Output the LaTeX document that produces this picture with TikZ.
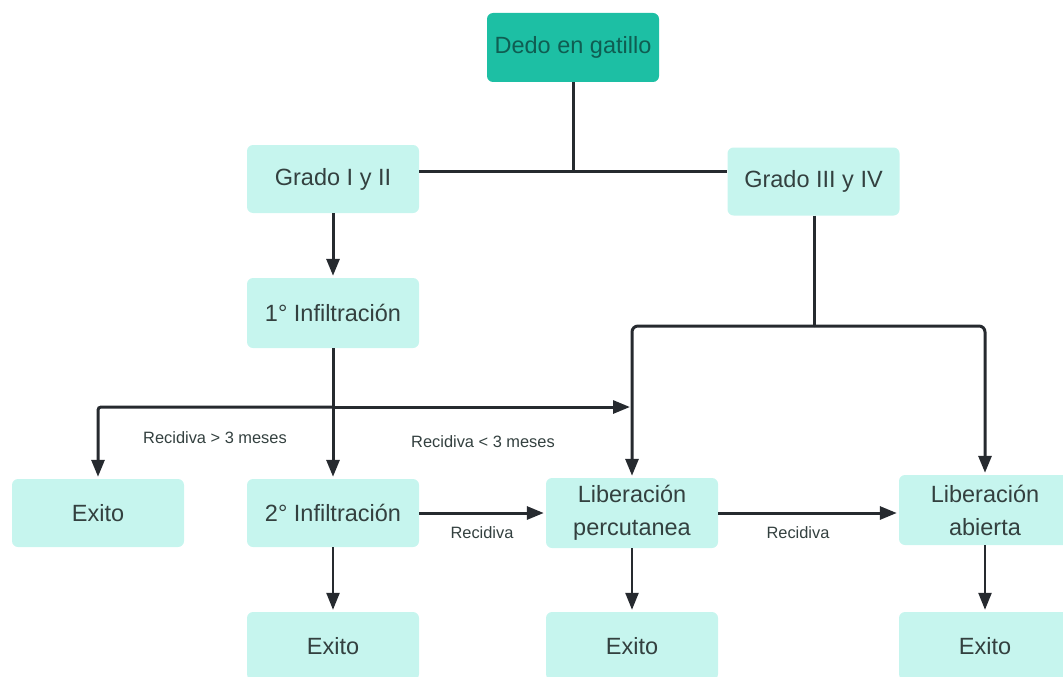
\documentclass[tikz,border=0pt]{standalone}
\usepackage{fontspec}
\setmainfont{Liberation Sans}
\usetikzlibrary{arrows.meta}
\definecolor{tealoscuro}{HTML}{1DBFA4}
\definecolor{tealtexto}{HTML}{0F5D52}
\definecolor{tealclaro}{HTML}{C6F5EE}
\definecolor{textogris}{HTML}{33403F}
\definecolor{linea}{HTML}{262A2F}
\tikzset{
  caja/.style={fill=tealclaro,draw=none,rounded corners=6pt,minimum width=172pt,
    minimum height=68pt,align=center,text=textogris,
    font=\fontsize{23.5}{33}\selectfont},
  raiz/.style={caja,fill=tealoscuro,text=tealtexto},
  conector/.style={draw=linea,line width=3pt},
  flecha/.style={conector,-{Triangle[length=17pt,width=13pt]},shorten >=2pt},
  flechafina/.style={flecha,line width=2.4pt},
  etiqueta/.style={text=textogris,font=\fontsize{16.4}{19}\selectfont}
}
\begin{document}
\begin{tikzpicture}[x=1pt,y=-1pt]
	\useasboundingbox (0,0) rectangle (1063,677);
	% cajas
	\node[raiz] (dedo) at (573,47.5) [minimum height=69pt] {Dedo en gatillo};
	\node[caja] (g12) at (333,179) {Grado I y II};
	\node[caja] (g34) at (813.5,181.5) {Grado III y IV};
	\node[caja] (inf1) at (333,313) [minimum height=70pt] {1° Infiltración};
	\node[caja] (exA) at (98,513) {Exito};
	\node[caja] (inf2) at (333,513) {2° Infiltración};
	\node[caja] (perc) at (632,513) [minimum height=70pt] {Liberación\\percutanea};
	\node[caja] (abie) at (985,510) [minimum height=70pt] {Liberación\\abierta};
	\node[caja] (exB) at (333,646) {Exito};
	\node[caja] (exC) at (632,646) {Exito};
	\node[caja] (exD) at (985,646) {Exito};
	% puntos de union
	\coordinate (union) at (573,171);
	\coordinate (rama) at (814,326);
	\coordinate (cruce) at (333,407);
	% conectores
	\draw[conector] (dedo.south) -- (union);
	\draw[conector] (g12.east |- union) -- (g34.west |- union);
	\draw[flecha] (g12.south) -- (inf1.north);
	\draw[conector] (g34.south -| rama) -- (rama);
	\draw[flecha,rounded corners=6pt] (rama) -| (perc.north);
	\draw[flecha,rounded corners=6pt] (rama) -| (abie.north);
	\draw[flecha] (inf1.south) -- (inf2.north);
	\draw[flecha,rounded corners=3pt] (cruce) -| (exA.north);
	\draw[flecha] (cruce) -- (perc.north |- cruce);
	\draw[flecha] (inf2.east) -- (perc.west |- inf2.east);
	\draw[flecha] (perc.east) -- (abie.west |- perc.east);
	\draw[flechafina] (inf2.south) -- (exB.north);
	\draw[flechafina] (perc.south) -- (exC.north);
	\draw[flechafina] (abie.south) -- (exD.north);
	% etiquetas
	\node[etiqueta] (lbl1) at (215,438) {Recidiva > 3 meses};
	\node[etiqueta] (lbl2) at (483,442) {Recidiva < 3 meses};
	\node[etiqueta] (lbl3) at (482,533) {Recidiva};
	\node[etiqueta] (lbl4) at (798,533) {Recidiva};
\end{tikzpicture}
\end{document}
